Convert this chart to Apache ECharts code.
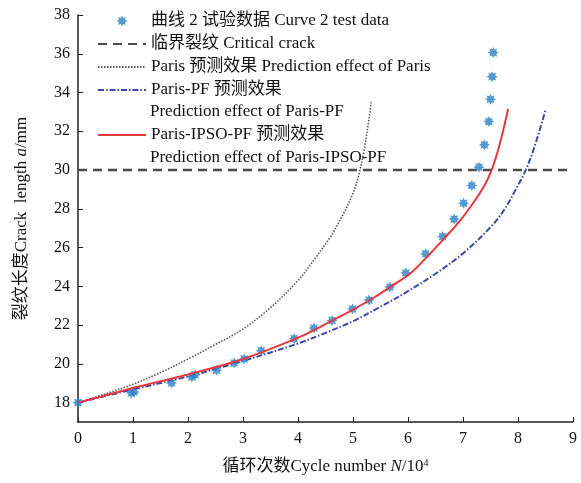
<!DOCTYPE html>
<html>
<head>
<meta charset="utf-8">
<style>
html,body{margin:0;padding:0;background:#fff;}
#chart{width:581px;height:483px;}
</style>
<script src="https://cdn.jsdelivr.net/npm/echarts@6.0.0/dist/echarts.min.js"></script>
</head>
<body>
<div id="chart"></div>
<script>
// 试验数据
var testN = [0, 0.97, 1.02, 1.70, 2.07, 2.13, 2.52, 2.84, 3.02, 3.33, 3.93, 4.29, 4.62, 4.99, 5.29, 5.67, 5.96, 6.32, 6.63, 6.84, 7.01, 7.16, 7.29, 7.39, 7.47, 7.50, 7.53, 7.55];
var testA = [18.0, 18.5, 18.55, 19.01, 19.32, 19.44, 19.67, 20.04, 20.25, 20.68, 21.30, 21.85, 22.24, 22.83, 23.29, 23.96, 24.69, 25.68, 26.57, 27.47, 28.29, 29.2, 30.15, 31.3, 32.5, 33.65, 34.82, 36.06];
// 临界裂纹
var critN = [0, 9];
var critA = [30, 30];
// Paris
var parisN = [0, 0.5, 1, 1.5, 2, 2.5, 3, 3.5, 4, 4.3, 4.6, 4.8, 5.0, 5.1, 5.2, 5.3, 5.33];
var parisA = [18, 18.45, 18.95, 19.55, 20.25, 21.0, 21.8, 22.9, 24.3, 25.4, 26.6, 27.6, 28.8, 29.7, 31.0, 32.8, 33.5];
// Paris-PF
var pfN = [0, 1, 2, 3, 4, 4.5, 5.0, 5.5, 6.0, 6.5, 7.0, 7.5, 7.75, 7.95, 8.14, 8.3, 8.5];
var pfA = [18, 18.68, 19.35, 20.15, 21.05, 21.6, 22.2, 22.95, 23.75, 24.65, 25.7, 27.05, 27.95, 28.95, 30.0, 31.2, 33.1];
// Paris-IPSO-PF
var ipsoN = [0, 1, 2, 3, 4, 4.6, 5.0, 5.4, 5.67, 6.05, 6.4, 6.7, 6.97, 7.21, 7.39, 7.52, 7.64, 7.74, 7.82];
var ipsoA = [18, 18.75, 19.45, 20.25, 21.35, 22.2, 22.8, 23.45, 23.96, 24.69, 25.68, 26.6, 27.47, 28.4, 29.2, 30.0, 31.05, 32.15, 33.15];

var yTicks = [18, 20, 22, 24, 26, 28, 30, 32, 34, 36, 38];

var names = [
  '曲线 2 试验数据 Curve 2 test data',
  '临界裂纹 Critical crack',
  'Paris 预测效果 Prediction effect of Paris',
  'Paris-PF 预测效果',
  'Paris-IPSO-PF 预测效果'
];
var secondLines = ['Prediction effect of Paris-PF', 'Prediction effect of Paris-IPSO-PF'];

var font = "'Liberation Serif','Noto Sans CJK SC',serif";

function zip(xs, ys){
  var out = [];
  for(var i = 0; i < xs.length; i++){
    out.push([xs[i], ys[i]]);
  }
  return out;
}

function starPath(){
  var pts = [];
  for(var i = 0; i < 16; i++){
    var r = i % 2 == 0 ? 50 : 30;
    var ang = Math.PI * i / 8 - Math.PI / 2;
    pts.push((50 + r * Math.cos(ang)).toFixed(1) + ' ' + (50 + r * Math.sin(ang)).toFixed(1));
  }
  return 'path://M' + pts.join(' L') + ' Z';
}

// 线条图例不显示圆点
function lineItem(name){
  return {name: name, itemStyle: {opacity: 0, color: 'rgba(0,0,0,0)', borderWidth: 0}};
}

window.onload = function(){
  var myChart = echarts.init(document.querySelector('#chart'));
  var legendBase = {
    orient: 'vertical',
    left: 97,
    padding: 0,
    itemGap: 3,
    itemWidth: 48,
    itemHeight: 11,
    textStyle: {fontFamily: font, fontSize: 17, color: '#111', lineHeight: 20}
  };
  var option = {
    animation: false,
    backgroundColor: '#fff',
    grid: {left: 78, right: 8, top: 15, bottom: 61},
    legend: [
      echarts.util.merge({top: 11, data: [names[0], lineItem(names[1]), lineItem(names[2]), lineItem(names[3])]}, legendBase),
      echarts.util.merge({top: 125, data: [lineItem(names[4])]}, legendBase)
    ],
    graphic: [
      {type: 'text', x: 150, y: 112, style: {text: secondLines[0], fill: '#111', font: '17px ' + font, verticalAlign: 'middle'}},
      {type: 'text', x: 150, y: 158, style: {text: secondLines[1], fill: '#111', font: '17px ' + font, verticalAlign: 'middle'}}
    ],
    xAxis: {
      type: 'value', min: 0, max: 9, interval: 1,
      axisLine: {show: true, lineStyle: {color: '#222', width: 1.5}},
      axisTick: {show: true, inside: true, length: 5, lineStyle: {color: '#222'}},
      axisLabel: {margin: 9, fontFamily: font, fontSize: 16, color: '#111'},
      splitLine: {show: false},
      name: '循环次数Cycle number {i|N}/10{s|4}',
      nameLocation: 'middle',
      nameGap: 36,
      nameTextStyle: {
        fontFamily: font, fontSize: 17, color: '#111',
        rich: {
          i: {fontFamily: font, fontSize: 17, fontStyle: 'italic', color: '#111'},
          s: {fontFamily: font, fontSize: 10, color: '#111', verticalAlign: 'top'}
        }
      }
    },
    yAxis: {
      type: 'value', min: 17, max: 38, interval: 1,
      axisLine: {show: true, lineStyle: {color: '#222', width: 1.5}},
      axisTick: {show: true, inside: true, length: 5, lineStyle: {color: '#222'}, customValues: yTicks},
      axisLabel: {margin: 8, fontFamily: font, fontSize: 16, color: '#111', customValues: yTicks},
      splitLine: {show: false},
      name: '裂纹长度Crack  length {i|a}/mm',
      nameLocation: 'middle',
      nameGap: 48,
      nameTextStyle: {
        fontFamily: font, fontSize: 17, color: '#111',
        rich: {i: {fontFamily: font, fontSize: 17, fontStyle: 'italic', color: '#111'}}
      }
    },
    series: [
      {
        name: names[1], type: 'line', data: zip(critN, critA), symbol: 'none',
        lineStyle: {color: '#4a4a4a', width: 2.5, type: [9, 6]}, z: 2
      },
      {
        name: names[2], type: 'line', data: zip(parisN, parisA), symbol: 'none',
        smooth: 0.35,
        lineStyle: {color: '#555', width: 1.6, type: [1.5, 1.5]}, z: 3
      },
      {
        name: names[3], type: 'line', data: zip(pfN, pfA), symbol: 'none',
        smooth: 0.35,
        lineStyle: {color: '#3a48a8', width: 2, type: [6, 2, 1.5, 2]}, z: 3
      },
      {
        name: names[0], type: 'scatter', data: zip(testN, testA),
        symbol: starPath(), symbolSize: 11,
        itemStyle: {color: '#2a82c6'}, z: 4
      },
      {
        name: names[4], type: 'line', data: zip(ipsoN, ipsoA), symbol: 'none',
        smooth: 0.35,
        lineStyle: {color: '#e8383d', width: 2}, z: 5
      }
    ]
  };
  myChart.setOption(option);
  window.addEventListener('resize', function(){
    myChart.resize();
  }, false);
};
</script>
</body>
</html>
